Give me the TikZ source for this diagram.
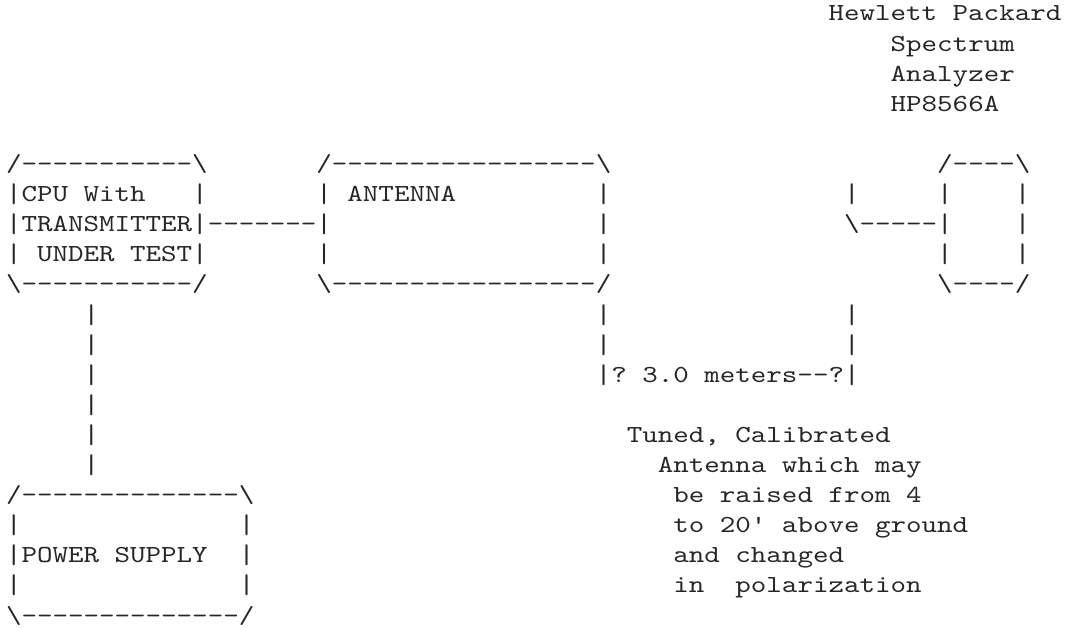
\documentclass[tikz,border=0pt]{standalone}
\usepackage{fontspec}
\setmonofont{lmmono10-regular.otf}[FakeStretch=1.2066]
\usepackage{graphicx}
\usepackage{tikz}
\usetikzlibrary{positioning}
\newcommand{\bsl}{\textbackslash}
\newcommand{\asciibar}{\raisebox{-1pt}{\scalebox{1}[1.1]{|}}}
\tikzset{
  ascii/.style={font=\ttfamily\fontsize{24.5pt}{30pt}\selectfont, text=black!85,
                inner sep=0pt, outer sep=0pt, anchor=base west},
}

\begin{document}
\begin{tikzpicture}[x=15.52pt, y=-30.1pt]
\useasboundingbox (-6pt,21pt) rectangle (1080pt,-607pt);
\node[ascii] (hpmaker) at (53,0) {Hewlett Packard};
\node[ascii] (hpkind)  at (57,1) {Spectrum};
\node[ascii] (hptype)  at (57,2) {Analyzer};
\node[ascii] (hpmodel) at (57,3) {HP8566A};

\node[ascii] (cputop) at (0,5) {/-----------\bsl};
\node[ascii] (cpuA)   at (0,6) {\asciibar CPU With~~~\asciibar};
\node[ascii] (cpuB)   at (0,7) {\asciibar TRANSMITTER\asciibar};
\node[ascii] (cpuC)   at (0,8) {\asciibar~UNDER TEST\asciibar};
\node[ascii] (cpubot) at (0,9) {\bsl-----------/};
\node[ascii] (cpulink) at (13,7) {-------};

\node[ascii] (anttop) at (20,5) {/-----------------\bsl};
\node[ascii] (antA)   at (20,6) {\asciibar~ANTENNA~~~~~~~~~\asciibar};
\node[ascii] (antB)   at (20,7) {\asciibar~~~~~~~~~~~~~~~~~\asciibar};
\node[ascii] (antC)   at (20,8) {\asciibar~~~~~~~~~~~~~~~~~\asciibar};
\node[ascii] (antbot) at (20,9) {\bsl-----------------/};

\node[ascii] (antmastA) at (38,10) {\asciibar};
\node[ascii] (antmastB) at (38,11) {\asciibar};
\node[ascii] (range)    at (38,12) {\asciibar?~3.0 meters--?\asciibar};
\node[ascii] (rxmastA)  at (54,6)  {\asciibar};
\node[ascii] (rxlink)   at (54,7)  {\bsl-----};
\node[ascii] (rxmastB)  at (54,10) {\asciibar};
\node[ascii] (rxmastC)  at (54,11) {\asciibar};

\node[ascii] (hptop) at (60,5) {/----\bsl};
\node[ascii] (hpA)   at (60,6) {\asciibar~~~~\asciibar};
\node[ascii] (hpB)   at (60,7) {\asciibar~~~~\asciibar};
\node[ascii] (hpC)   at (60,8) {\asciibar~~~~\asciibar};
\node[ascii] (hpbot) at (60,9) {\bsl----/};

\node[ascii] (pwrlinkA) at (5,10) {\asciibar};
\node[ascii] (pwrlinkB) at (5,11) {\asciibar};
\node[ascii] (pwrlinkC) at (5,12) {\asciibar};
\node[ascii] (pwrlinkD) at (5,13) {\asciibar};
\node[ascii] (pwrlinkE) at (5,14) {\asciibar};
\node[ascii] (pwrlinkF) at (5,15) {\asciibar};

\node[ascii] (pwrtop) at (0,16) {/--------------\bsl};
\node[ascii] (pwrA)   at (0,17) {\asciibar~~~~~~~~~~~~~~\asciibar};
\node[ascii] (pwrB)   at (0,18) {\asciibar POWER SUPPLY~~\asciibar};
\node[ascii] (pwrC)   at (0,19) {\asciibar~~~~~~~~~~~~~~\asciibar};
\node[ascii] (pwrbot) at (0,20) {\bsl--------------/};

\node[ascii] (noteA) at (40,14) {Tuned, Calibrated};
\node[ascii] (noteB) at (42,15) {Antenna which may};
\node[ascii] (noteC) at (43,16) {be raised from 4};
\node[ascii] (noteD) at (43,17) {to 20' above ground};
\node[ascii] (noteE) at (43,18) {and changed};
\node[ascii] (noteF) at (43,19) {in~~polarization};
\end{tikzpicture}
\end{document}
